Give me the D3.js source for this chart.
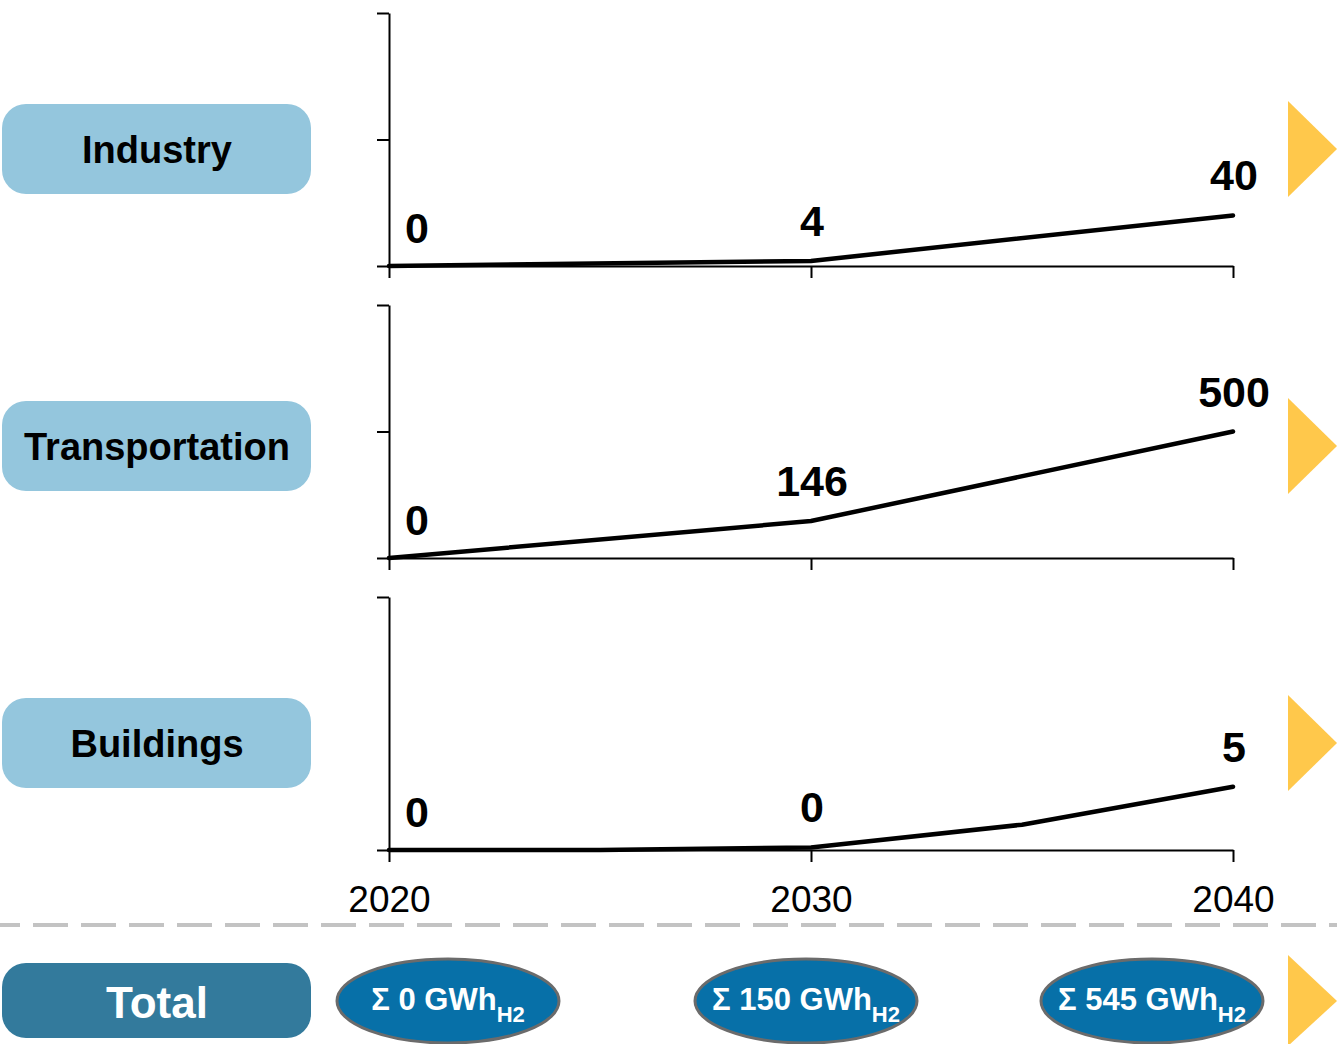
<!DOCTYPE html>
<html>
<head>
<meta charset="utf-8">
<script src="https://cdn.jsdelivr.net/npm/d3@7"></script>
<style>
  html, body { margin: 0; padding: 0; background: #fff; }
  svg { display: block; font-family: "Liberation Sans", Arial, sans-serif; }
</style>
</head>
<body>
<svg id="chart" width="1337" height="1044"></svg>
<script>
// sector names and their series (year, value)
const sectors = ["Industry", "Transportation", "Buildings"];
const industryYears = [2020, 2030, 2040];
const industryValues = [0, 4, 40];
const transportYears = [2020, 2030, 2040];
const transportValues = [0, 146, 500];
const buildingsYears = [2020, 2025, 2030, 2035, 2040];
const buildingsValues = [0, 0, 0.2, 2, 5];
// y axis maximum per panel, and whether a middle tick is drawn
const yMax = [200, 1000, 20];
const yMidTick = [true, true, false];
const tickYears = [2020, 2030, 2040];
const labelYears = [2020, 2030, 2040];
const totalValues = [0, 150, 545];

const seriesYears = [industryYears, transportYears, buildingsYears];
const seriesValues = [industryValues, transportValues, buildingsValues];

const svg = d3.select("#chart");

const panelTop = 13;
const panelHeight = 253;
const panelStep = 292;
const boxCenter0 = 149;
const boxStep = 297;

const x = d3.scaleLinear().domain([2020, 2040]).range([389, 1233]);

const lightBlue = "#94c6dd";
const yellow = "#ffc84b";

sectors.forEach((name, i) => {
    const top = panelTop + i * panelStep;
    const bottom = top + panelHeight;
    const y = d3.scaleLinear().domain([0, yMax[i]]).range([bottom, top]);
    const g = svg.append("g").attr("class", "panel");

    // axes
    const yTicks = yMidTick[i] ? [0, yMax[i] / 2, yMax[i]] : [0, yMax[i]];
    const yAxis = d3.axisLeft(y)
        .tickValues(yTicks)
        .tickSize(12)
        .tickSizeOuter(0)
        .tickFormat("");
    g.append("g").attr("transform", `translate(${x(2020)},0)`).call(yAxis);

    const last = i === sectors.length - 1;
    const xAxis = d3.axisBottom(x)
        .tickValues(tickYears)
        .tickSize(12)
        .tickSizeOuter(0)
        .tickPadding(24)
        .tickFormat(last ? d3.format("d") : "");
    g.append("g").attr("transform", `translate(0,${bottom})`).call(xAxis);

    g.selectAll(".domain, .tick line").attr("stroke", "#000").attr("stroke-width", 2);
    g.selectAll(".tick text")
        .attr("font-size", 37)
        .attr("font-family", "Liberation Sans, Arial, sans-serif")
        .attr("fill", "#000");

    // series line
    const pts = seriesYears[i].map((yr, k) => ({ year: yr, value: seriesValues[i][k] }));
    const line = d3.line().x((d) => x(d.year)).y((d) => y(d.value));
    g.append("path")
        .datum(pts)
        .attr("d", line)
        .attr("fill", "none")
        .attr("stroke", "#000")
        .attr("stroke-width", 4.5)
        .attr("stroke-linecap", "round")
        .attr("stroke-linejoin", "round");

    // value labels
    const labels = pts.filter((d) => labelYears.includes(d.year));
    g.selectAll("text.val")
        .data(labels)
        .join("text")
        .attr("class", "val")
        .attr("x", (d) => (d.year === 2020 ? x(d.year) + 28 : x(d.year) + 1))
        .attr("y", (d) => y(d.value) - (d.year === 2020 ? 23 : 25))
        .attr("text-anchor", "middle")
        .attr("font-size", 43)
        .attr("font-weight", "bold")
        .attr("fill", "#000")
        .text((d) => d3.format(".0f")(d.value));

    // sector box
    const cy = boxCenter0 + i * boxStep;
    svg.append("rect")
        .attr("x", 2).attr("y", cy - 45)
        .attr("width", 309).attr("height", 90)
        .attr("rx", 24)
        .attr("fill", lightBlue);
    svg.append("text")
        .attr("x", 157).attr("y", cy + 14)
        .attr("text-anchor", "middle")
        .attr("font-size", 38)
        .attr("font-weight", "bold")
        .attr("fill", "#000")
        .text(name);

    // arrow
    svg.append("path")
        .attr("d", `M1288,${cy - 48}L1337,${cy}L1288,${cy + 48}Z`)
        .attr("fill", yellow);
});

// dashed separator
svg.append("line")
    .attr("x1", 0).attr("x2", 1337)
    .attr("y1", 925).attr("y2", 925)
    .attr("stroke", "#c3c3c3")
    .attr("stroke-width", 4)
    .attr("stroke-dasharray", "35 13")
    .attr("stroke-dashoffset", 15);

// total row
const totalY = 1001;
svg.append("rect")
    .attr("x", 2).attr("y", 963)
    .attr("width", 309).attr("height", 75)
    .attr("rx", 24)
    .attr("fill", "#337a9c");
svg.append("text")
    .attr("x", 157).attr("y", 1018)
    .attr("text-anchor", "middle")
    .attr("font-size", 44)
    .attr("font-weight", "bold")
    .attr("fill", "#fff")
    .text("Total");

const tx = d3.scalePoint().domain(totalValues.map((d, k) => k)).range([448, 1152]);

const ovals = svg.selectAll("g.total")
    .data(totalValues)
    .join("g")
    .attr("class", "total")
    .attr("transform", (d, k) => `translate(${tx(k) + (k === 1 ? 6 : 0)},${totalY})`);

ovals.append("ellipse")
    .attr("rx", 111).attr("ry", 42)
    .attr("fill", "#0770a8")
    .attr("stroke", "#6b6b6b")
    .attr("stroke-width", 3);

const tt = ovals.append("text")
    .attr("y", 9)
    .attr("text-anchor", "middle")
    .attr("font-size", 31)
    .attr("font-weight", "bold")
    .attr("fill", "#fff");
tt.append("tspan").text((d) => `Σ ${d} GWh`);
tt.append("tspan").attr("dy", 12).attr("font-size", 22).text("H2");

svg.append("path")
    .attr("d", `M1288,955L1337,${totalY}L1288,1046Z`)
    .attr("fill", yellow);
</script>
</body>
</html>
